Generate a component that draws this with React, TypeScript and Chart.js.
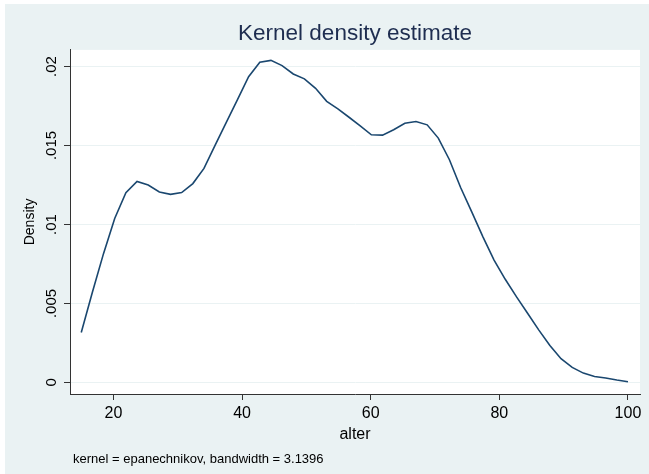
import React, { useEffect, useRef } from "react";
import { Chart, registerables } from "chart.js";

Chart.register(...registerables);

const alter = [
  15, 16.73, 18.47, 20.2, 21.94, 23.67, 25.41, 27.14, 28.88, 30.61,
  32.35, 34.08, 35.82, 37.55, 39.29, 41.02, 42.76, 44.49, 46.22, 47.96,
  49.69, 51.43, 53.16, 54.9, 56.63, 58.37, 60.1, 61.84, 63.57, 65.31,
  67.04, 68.78, 70.51, 72.24, 73.98, 75.71, 77.45, 79.18, 80.92, 82.65,
  84.39, 86.12, 87.86, 89.59, 91.33, 93.06, 94.8, 96.53, 98.27, 100,
];
const density = [
  0.00316, 0.00571, 0.00817, 0.01038, 0.01202, 0.01273, 0.0125, 0.01206, 0.01191, 0.01202,
  0.01259, 0.01355, 0.01503, 0.01647, 0.0179, 0.01936, 0.02027, 0.02039, 0.02006, 0.01953,
  0.01922, 0.01862, 0.0178, 0.01732, 0.01679, 0.01624, 0.01568, 0.01566, 0.016, 0.01641,
  0.01652, 0.01631, 0.01547, 0.0141, 0.01234, 0.0108, 0.00922, 0.00775, 0.00653, 0.00543,
  0.00438, 0.00333, 0.00234, 0.0015, 0.00095, 0.00059, 0.00038, 0.00028, 0.00015, 0.00004,
];
const xTicks = [20, 40, 60, 80, 100];
const yTicks = [0, 0.005, 0.01, 0.015, 0.02];
const yTickLabels = ["0", ".005", ".01", ".015", ".02"];
const titleText = "Kernel density estimate";
const xTitle = "alter";
const yTitle = "Density";
const noteText = "kernel = epanechnikov, bandwidth = 3.1396";

const FONT = '"Liberation Sans", Arial, Helvetica, sans-serif';
const BG = "#EAF2F3";
const AXIS = "#333333";

export default function App() {
  const ref = useRef<HTMLCanvasElement | null>(null);

  useEffect(() => {
    if (!ref.current) return;
    const bgPlugin = {
      id: "stataBg",
      beforeDraw(chart: any) {
        const { ctx, width, height, chartArea } = chart;
        ctx.save();
        ctx.fillStyle = "#ffffff";
        ctx.fillRect(0, 0, width, height);
        ctx.fillStyle = BG;
        ctx.fillRect(5, 4, width - 5, height - 4);
        ctx.fillStyle = "#ffffff";
        ctx.fillRect(chartArea.left, chartArea.top, chartArea.right - chartArea.left, chartArea.bottom - chartArea.top);
        ctx.restore();
      },
      afterDraw(chart: any) {
        const { ctx } = chart;
        ctx.save();
        ctx.fillStyle = "#000000";
        ctx.font = `13px ${FONT}`;
        ctx.textBaseline = "middle";
        ctx.textAlign = "left";
        ctx.fillText(noteText, 73, 459);
        ctx.restore();
      },
    };

    const chart = new Chart(ref.current, {
      type: "line",
      data: {
        datasets: [
          {
            data: alter.map((x, i) => ({ x, y: density[i] })),
            borderColor: "#1A476F",
            borderWidth: 1.6,
            pointRadius: 0,
            tension: 0,
            fill: false,
          },
        ],
      },
      options: {
        responsive: false,
        animation: false,
        layout: { padding: { left: 0, right: 9, top: 0, bottom: 28 } },
        plugins: {
          legend: { display: false },
          tooltip: { enabled: false },
          title: {
            display: true,
            text: titleText,
            fullSize: false,
            color: "#1E2D50",
            font: { family: FONT, size: 22.5, weight: "normal" },
            padding: { top: 19.8, bottom: 3.1 },
          },
        },
        scales: {
          x: {
            type: "linear",
            min: 13.25,
            max: 101.87,
            afterBuildTicks: (s: any) => {
              s.ticks = xTicks.map((v) => ({ value: v }));
            },
            afterFit: (s: any) => {
              s.height = 52;
            },
            ticks: {
              color: "#000000",
              font: { family: FONT, size: 16 },
              padding: 4.4,
              maxRotation: 0,
              minRotation: 0,
              callback: (v: any) => String(v),
            },
            grid: { drawOnChartArea: false, drawTicks: true, tickLength: 6, tickColor: AXIS },
            border: { display: true, color: AXIS, width: 1 },
            title: {
              display: true,
              text: xTitle,
              color: "#000000",
              font: { family: FONT, size: 16 },
              padding: { top: 0, bottom: 1.9 },
            },
          },
          y: {
            type: "linear",
            min: -0.000732,
            max: 0.021054,
            afterBuildTicks: (s: any) => {
              s.ticks = yTicks.map((v) => ({ value: v }));
            },
            afterFit: (s: any) => {
              s.width = 70;
            },
            ticks: {
              color: "#000000",
              font: { family: FONT, size: 15 },
              padding: -2.5,
              minRotation: 90,
              maxRotation: 90,
              crossAlign: "center",
              callback: (v: any) => {
                const k = yTicks.indexOf(v);
                return k >= 0 ? yTickLabels[k] : "";
              },
            },
            grid: { color: BG, lineWidth: 1, drawTicks: true, tickLength: 6, tickColor: AXIS },
            border: { display: true, color: AXIS, width: 1 },
            title: {
              display: true,
              text: yTitle,
              color: "#000000",
              font: { family: FONT, size: 14 },
              padding: { top: 22, bottom: 0 },
            },
          },
        },
      },
      plugins: [bgPlugin],
    } as any);

    return () => chart.destroy();
  }, []);

  return (
    <div style={{ position: "absolute", left: 0, top: 0, width: 649, height: 474 }}>
      <canvas ref={ref} width={649} height={474} style={{ display: "block", width: 649, height: 474 }} />
    </div>
  );
}
